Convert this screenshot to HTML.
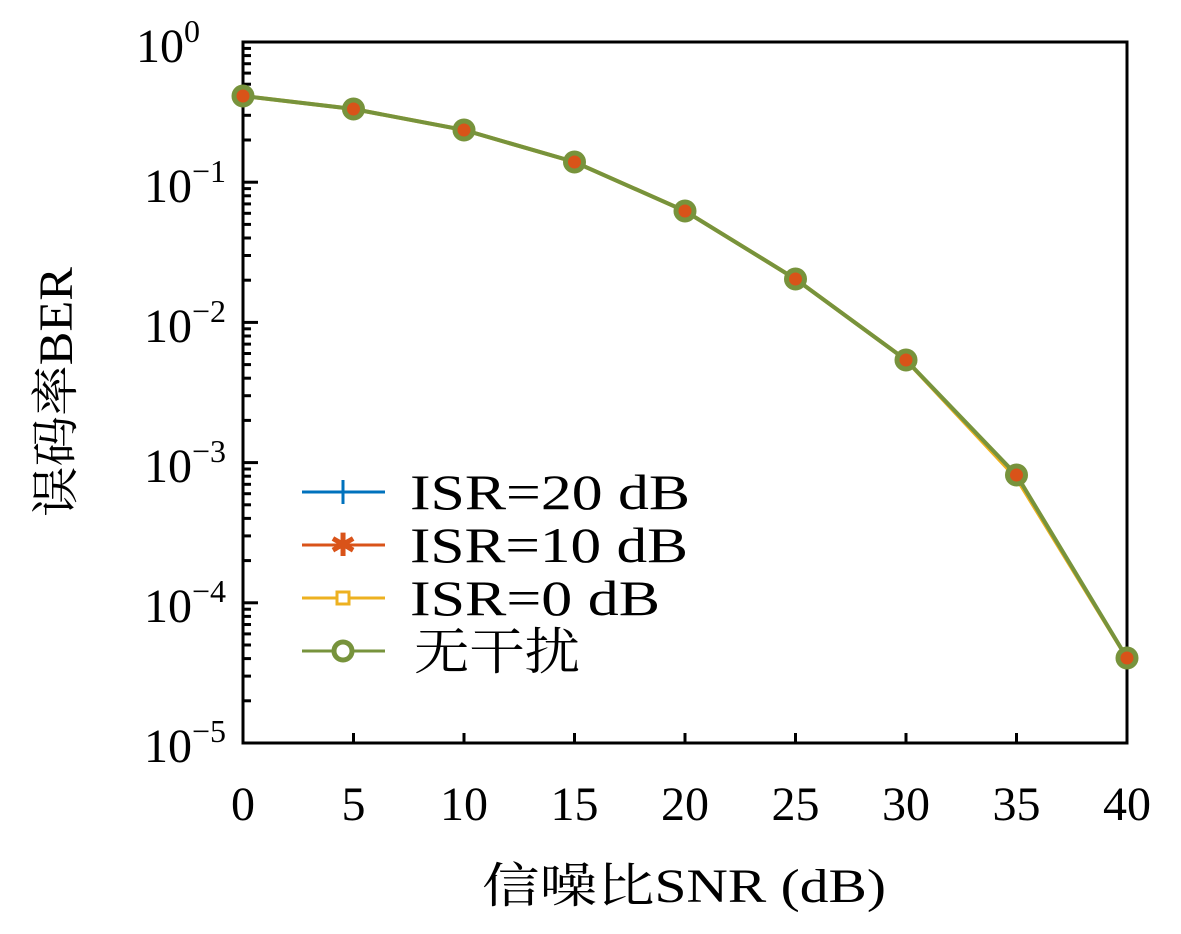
<!DOCTYPE html>
<html><head><meta charset="utf-8"><style>
body{margin:0;background:#fff}
svg text{font-family:"Liberation Serif","Noto Serif CJK SC",serif;fill:#000}
</style></head><body>
<svg id="s" width="1181" height="929" viewBox="0 0 1181 929" xmlns="http://www.w3.org/2000/svg">
<rect x="0" y="0" width="1181" height="929" fill="#fff"/>
<g id="ticks" stroke="#000" stroke-width="3"></g>
<rect x="243" y="42" width="884" height="701" fill="none" stroke="#000" stroke-width="3"/>
<g font-size="48" text-anchor="end">
<text x="200" y="62">10<tspan dy="-20" font-size="32">0</tspan></text>
<text x="226" y="202">10<tspan dy="-20" font-size="32">−1</tspan></text>
<text x="226" y="342">10<tspan dy="-20" font-size="32">−2</tspan></text>
<text x="226" y="482">10<tspan dy="-20" font-size="32">−3</tspan></text>
<text x="226" y="622">10<tspan dy="-20" font-size="32">−4</tspan></text>
<text x="226" y="762">10<tspan dy="-20" font-size="32">−5</tspan></text>
</g>
<g font-size="48" text-anchor="middle" id="xl"></g>
<text x="684" y="902" font-size="48" text-anchor="middle" textLength="404" lengthAdjust="spacingAndGlyphs">信噪比SNR (dB)</text>
<text transform="translate(72,392) rotate(-90)" font-size="48" text-anchor="middle" textLength="250" lengthAdjust="spacingAndGlyphs">误码率BER</text>
<g id="series" fill="none"></g>
<g font-size="50">
<line x1="302" y1="492" x2="385" y2="492" stroke="#0072BD" stroke-width="3"/>
<line x1="343" y1="480" x2="343" y2="504" stroke="#0072BD" stroke-width="3"/>
<text x="410" y="509" textLength="280" lengthAdjust="spacingAndGlyphs">ISR=20 dB</text>
<line x1="302" y1="545" x2="385" y2="545" stroke="#D95319" stroke-width="3"/>
<text x="343" y="556" text-anchor="middle" style="fill:#D95319" font-size="32">✱</text>
<text x="410" y="562" textLength="278" lengthAdjust="spacingAndGlyphs">ISR=10 dB</text>
<line x1="302" y1="598" x2="385" y2="598" stroke="#EDB120" stroke-width="3"/>
<rect x="337" y="592" width="12" height="12" fill="#fff" stroke="#EDB120" stroke-width="3"/>
<text x="410" y="615" textLength="250" lengthAdjust="spacingAndGlyphs">ISR=0 dB</text>
<line x1="302" y1="651" x2="385" y2="651" stroke="#77933C" stroke-width="3"/>
<circle cx="343" cy="651" r="9" fill="#fff" stroke="#77933C" stroke-width="5"/>
<text x="414" y="669" textLength="166" lengthAdjust="spacingAndGlyphs">无干扰</text>
</g>
</svg>
<script>
var ns="http://www.w3.org/2000/svg";
function el(p,t,a){var e=document.createElementNS(ns,t);for(var k in a)e.setAttribute(k,a[k]);p.appendChild(e);return e;}
var T=document.getElementById('ticks'),yTop=42,yBot=743,dec=(yBot-yTop)/5;
for(var d=0;d<5;d++){var base=yBot-d*dec;for(var k=2;k<=9;k++){var y=base-Math.log10(k)*dec;el(T,'line',{x1:243,x2:251,y1:y,y2:y});}}
for(var d=1;d<5;d++){var y=yBot-d*dec;el(T,'line',{x1:243,x2:258,y1:y,y2:y});}
var X=document.getElementById('xl');
for(var i=0;i<=8;i++){var x=243+i*110.5;el(T,'line',{x1:x,x2:x,y1:743,y2:733});var t=el(X,'text',{x:x,y:820});t.textContent=i*5;}
var ys=[96,109,130,162,211,279,360,475,658];
var pts=ys.map(function(y,i){return (243+i*110.5)+','+y;}).join(' ');
var S=document.getElementById('series');
var ys0=ys.slice();ys0[7]=478;
el(S,'polyline',{points:ys0.map(function(y,i){return (243+i*110.5)+','+y;}).join(' '),stroke:'#EDB120','stroke-width':4});
el(S,'polyline',{points:pts,stroke:'#77933C','stroke-width':4});
ys.forEach(function(y,i){var x=243+i*110.5;el(S,'circle',{cx:x,cy:y,r:9,fill:'#D95319',stroke:'#77933C','stroke-width':5});});
</script>
</body></html>
